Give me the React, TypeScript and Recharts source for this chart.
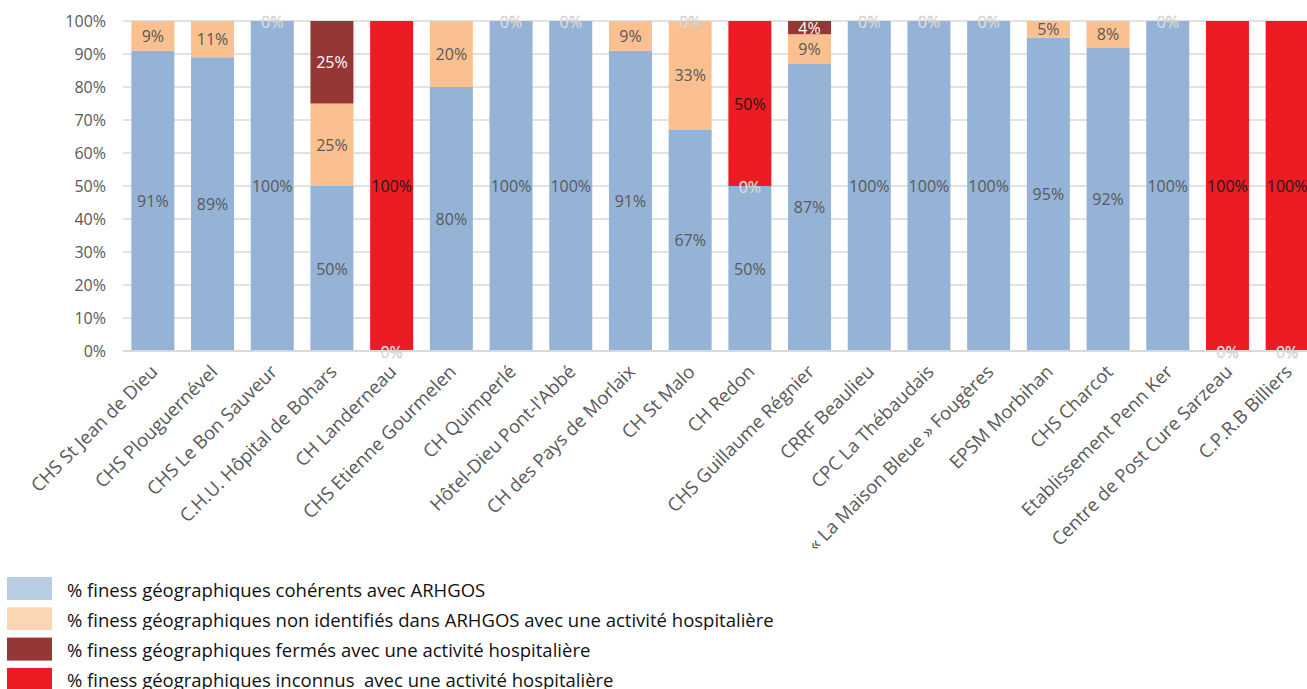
import React from 'react';
import {
  ComposedChart,
  Bar,
  Scatter,
  XAxis,
  YAxis,
  CartesianGrid,
  Legend,
  LabelList,
} from 'recharts';

// établissements (axe des catégories)
const etablissements = [
  'CHS St Jean de Dieu',
  'CHS Plouguernével',
  'CHS Le Bon Sauveur',
  'C.H.U. Hôpital de Bohars',
  'CH Landerneau',
  'CHS Etienne Gourmelen',
  'CH Quimperlé',
  "Hôtel-Dieu Pont-l'Abbé",
  'CH des Pays de Morlaix',
  'CH St Malo',
  'CH Redon',
  'CHS Guillaume Régnier',
  'CRRF Beaulieu',
  'CPC La Thébaudais',
  '« La Maison Bleue » Fougères',
  'EPSM Morbihan',
  'CHS Charcot',
  'Etablissement Penn Ker',
  'Centre de Post Cure Sarzeau',
  'C.P.R.B Billiers',
];

// % par série (null = cellule vide, pas d'étiquette)
const coherents = [91, 89, 100, 50, 0, 80, 100, 100, 91, 67, 50, 87, 100, 100, 100, 95, 92, 100, 0, 0];
const nonIdentifies = [9, 11, 0, 25, null, 20, 0, 0, 9, 33, 0, 9, 0, 0, 0, 5, 8, 0, null, null];
const fermes = [null, null, null, 25, null, null, null, null, null, 0, null, 4, null, null, null, null, null, null, null, null];
const inconnus = [null, null, null, null, 100, null, null, null, null, null, 50, null, null, null, null, null, null, null, 100, 100];

const yTicks = [0, 10, 20, 30, 40, 50, 60, 70, 80, 90, 100];

const series = [
  { key: 'coh', values: coherents, fill: '#95B3D7', swatch: '#B9CDE5', labelColor: '#595959',
    name: '% finess géographiques cohérents avec ARHGOS' },
  { key: 'non', values: nonIdentifies, fill: '#FAC090', swatch: '#FCD5B5', labelColor: '#595959',
    name: '% finess géographiques non identifiés dans ARHGOS avec une activité hospitalière' },
  { key: 'fer', values: fermes, fill: '#953735', swatch: '#953735', labelColor: '#ffffff',
    name: '% finess géographiques fermés avec une activité hospitalière' },
  { key: 'inc', values: inconnus, fill: '#ED1C24', swatch: '#ED1C24', labelColor: '#1a1a1a',
    name: '% finess géographiques inconnus  avec une activité hospitalière' },
];

// table for recharts; zeroPos = stacked level where a "0%" label sits
const data = etablissements.map((name, i) => {
  const row: any = { name, zeroPos: null };
  let cum = 0;
  series.forEach((s) => {
    const v = s.values[i];
    row[s.key] = v ?? 0;
    row[s.key + 'Label'] = v;
    if (v === 0) row.zeroPos = cum;
    cum += v ?? 0;
  });
  return row;
});

const FONT = '"Open Sans", sans-serif';

const makeLabel = (color: string) => (props: any) => {
  const { x, y, width, height, value } = props;
  if (value === null || value === undefined || value === 0) return null;
  const cx = Number(x) + Number(width) / 2;
  const cy = Number(y) + Number(height) / 2;
  return (
    <text x={cx} y={cy} textAnchor="middle" dominantBaseline="central"
      fill={color} fontSize={16} fontFamily={FONT}>
      {value}%
    </text>
  );
};

const ZeroLabel = (props: any) => {
  const { cx, cy, payload } = props;
  if (payload == null || payload.zeroPos == null) return <g />;
  return (
    <text x={cx} y={cy + 1} textAnchor="middle" dominantBaseline="central"
      fill="#ffffff" stroke="#b3b3b3" strokeWidth={0.45} fontSize={16} fontFamily={FONT}>
      0%
    </text>
  );
};

const CategoryTick = (props: any) => {
  const { x, y, payload } = props;
  const tx = x + 6;
  const ty = y + 14;
  return (
    <text x={tx} y={ty} textAnchor="end" transform={`rotate(-45, ${tx}, ${ty})`}
      fill="#595959" fontSize={18.5} fontFamily={FONT}>
      {payload.value}
    </text>
  );
};

const LegendBox = () => (
  <svg width={1307} height={120} style={{ display: 'block' }}>
    <defs>
      <clipPath id="clipRow2">
        <rect x={0} y={0} width={1307} height={61} />
      </clipPath>
    </defs>
    {series.map((s, i) => (
      <g key={s.key} clipPath={i === 1 ? 'url(#clipRow2)' : undefined}>
        <rect x={7} y={8 + i * 30.3} width={45} height={23} fill={s.swatch} />
        <text x={67} y={28 + i * 30} fill="#111111" fontSize={18.5} fontFamily={FONT}
          style={{ whiteSpace: 'pre' }}>
          {s.name}
        </text>
      </g>
    ))}
  </svg>
);

export default function App() {
  return (
    <div style={{ position: 'fixed', left: 0, top: 0, width: 1307, height: 689, overflow: 'hidden', background: '#fff' }}>
      <ComposedChart
        width={1317}
        height={689}
        data={data}
        margin={{ top: 21, right: 0, left: 0, bottom: 0 }}
        barCategoryGap="14%"
      >
        <CartesianGrid vertical={false} stroke="#d9d9d9" strokeWidth={1.5} />
        <XAxis
          dataKey="name"
          interval={0}
          height={218}
          tickLine={false}
          axisLine={{ stroke: '#d9d9d9', strokeWidth: 2 }}
          tick={<CategoryTick />}
        />
        <YAxis
          width={123}
          domain={[0, 100]}
          ticks={yTicks}
          tickFormatter={(v) => `${v}%`}
          axisLine={false}
          tickLine={false}
          tickMargin={11}
          tick={{ fill: '#595959', fontSize: 16, fontFamily: FONT }}
        />
        <Legend
          verticalAlign="bottom"
          height={120}
          content={<LegendBox />}
          wrapperStyle={{ left: 0, width: 1307, height: 120 }}
        />
        {series.map((s) => (
          <Bar key={s.key} dataKey={s.key} name={s.name} stackId="a" fill={s.fill} isAnimationActive={false}>
            <LabelList dataKey={s.key + 'Label'} content={makeLabel(s.labelColor)} />
          </Bar>
        ))}
        <Scatter dataKey="zeroPos" shape={<ZeroLabel />} isAnimationActive={false} legendType="none" />
      </ComposedChart>
    </div>
  );
}
